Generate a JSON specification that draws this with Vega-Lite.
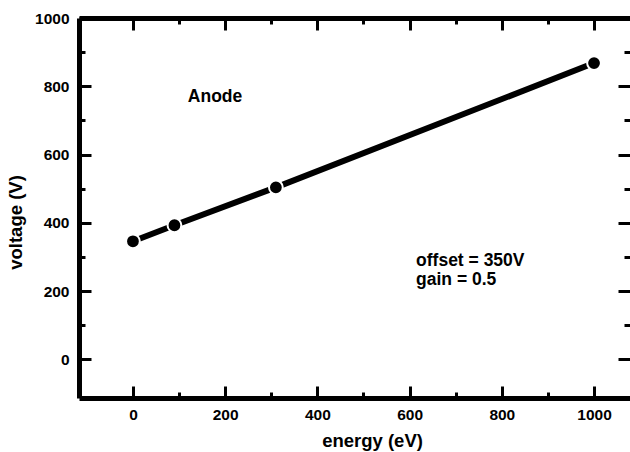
{
  "$schema": "https://vega.github.io/schema/vega-lite/v6.json",
  "width": 551,
  "height": 380,
  "autosize": {"type": "none"},
  "padding": {"left": 79, "top": 18, "right": 0, "bottom": 54},
  "config": {
    "view": {"stroke": null},
    "font": "Liberation Sans",
    "axis": {
      "grid": false,
      "tickColor": "black",
      "tickWidth": 3,
      "domainColor": "black",
      "domainWidth": 5,
      "labelFont": "Liberation Sans",
      "labelFontSize": 15.5,
      "labelFontWeight": "bold",
      "labelColor": "black",
      "titleFont": "Liberation Sans",
      "titleFontSize": 18.5,
      "titleFontWeight": "bold",
      "titleColor": "black"
    }
  },
  "datasets": {
    "pts": [
      {"energy": 0, "voltage": 346},
      {"energy": 90, "voltage": 393},
      {"energy": 310, "voltage": 504},
      {"energy": 1000, "voltage": 868}
    ],
    "notes": [
      {"energy": 119, "voltage": 769, "label": "Anode"},
      {"energy": 614, "voltage": 288, "label": "offset = 350V"},
      {"energy": 614, "voltage": 233, "label": "gain = 0.5"}
    ]
  },
  "layer": [
    {
      "data": {"name": "pts"},
      "mark": {"type": "line", "color": "black", "strokeWidth": 6},
      "encoding": {
        "x": {"field": "energy", "type": "quantitative",
          "scale": {"domain": [-117, 1078], "nice": false, "zero": false},
          "axis": {"orient": "bottom", "values": [0, 200, 400, 600, 800, 1000], "format": "d", "tickSize": -12, "labelPadding": 21, "title": "energy (eV)", "titleX": 293, "titleY": 42, "titleBaseline": "middle"}},
        "y": {"field": "voltage", "type": "quantitative",
          "scale": {"domain": [-113, 1000], "nice": false, "zero": false},
          "axis": {"orient": "left", "values": [0, 200, 400, 600, 800, 1000], "format": "d", "tickSize": -12, "labelPadding": 22, "title": "voltage (V)", "titleX": -64, "titleY": 204, "titleBaseline": "middle", "titleAlign": "center"}}
      }
    },
    {
      "data": {"name": "pts"},
      "mark": {"type": "point", "filled": true, "fill": "black", "stroke": "white", "strokeWidth": 2, "opacity": 1, "size": 190},
      "encoding": {
        "x": {"field": "energy", "type": "quantitative",
          "axis": {"orient": "bottom", "values": [100, 300, 500, 700, 900], "tickSize": -6, "labels": false, "domain": false, "title": null}},
        "y": {"field": "voltage", "type": "quantitative",
          "axis": {"orient": "left", "values": [100, 300, 500, 700, 900], "tickSize": -6, "labels": false, "domain": false, "title": null}}
      }
    },
    {
      "data": {"name": "notes"},
      "mark": {"type": "text", "align": "left", "baseline": "middle", "font": "Liberation Sans", "fontSize": 17.5, "fontWeight": "bold", "color": "black"},
      "encoding": {
        "x": {"field": "energy", "type": "quantitative",
          "axis": {"orient": "top", "values": [0, 200, 400, 600, 800, 1000], "tickSize": -12, "labels": false, "title": null}},
        "y": {"field": "voltage", "type": "quantitative",
          "axis": {"orient": "right", "values": [0, 200, 400, 600, 800, 1000], "tickSize": -12, "labels": false, "domain": false, "title": null}},
        "text": {"field": "label"}
      }
    },
    {
      "data": {"name": "notes"},
      "mark": {"type": "text", "opacity": 0},
      "encoding": {
        "x": {"field": "energy", "type": "quantitative",
          "axis": {"orient": "top", "values": [100, 300, 500, 700, 900], "tickSize": -6, "labels": false, "domain": false, "title": null}},
        "y": {"field": "voltage", "type": "quantitative",
          "axis": {"orient": "right", "values": [100, 300, 500, 700, 900], "tickSize": -6, "labels": false, "domain": false, "title": null}},
        "text": {"field": "label"}
      }
    }
  ],
  "resolve": {"axis": {"x": "independent", "y": "independent"}}
}
